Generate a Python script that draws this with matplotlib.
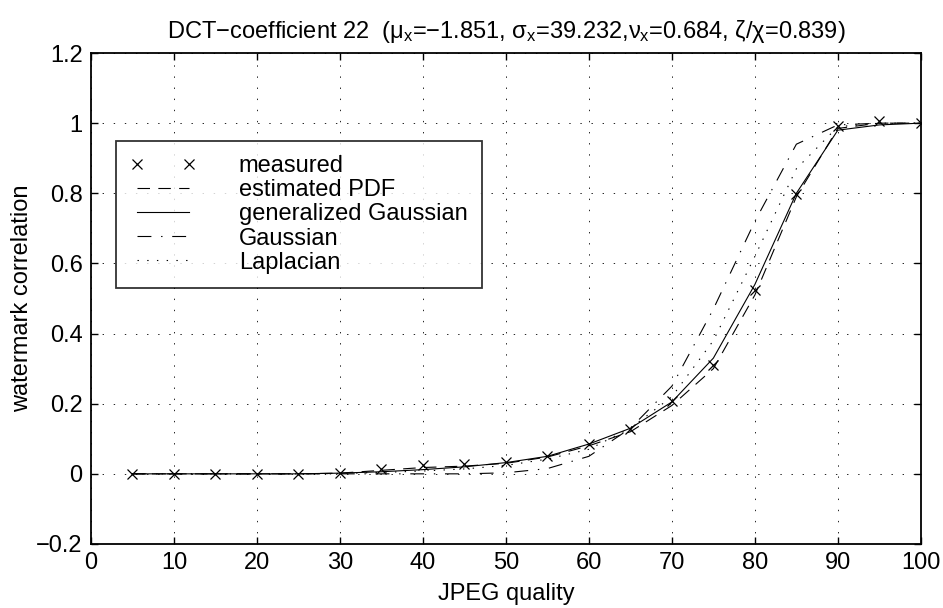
import matplotlib
matplotlib.use("Agg")
import matplotlib.pyplot as plt

plt.rcParams['font.family'] = ['Liberation Sans', 'DejaVu Sans']
plt.rcParams['mathtext.fontset'] = 'custom'
plt.rcParams['mathtext.rm'] = 'Liberation Sans'
plt.rcParams['mathtext.it'] = 'Liberation Sans'
plt.rcParams['mathtext.sf'] = 'Liberation Sans'
plt.rcParams['lines.scale_dashes'] = False

quality = [5, 10, 15, 20, 25, 30, 35, 40, 45, 50, 55, 60, 65, 70, 75, 80, 85, 90, 95, 100]
measured = [0, 0, 0, 0, 0, 0.002, 0.015, 0.024, 0.027, 0.034, 0.052, 0.084, 0.128, 0.209, 0.311, 0.525, 0.799, 0.991, 1.006, 1.0]
estimated_pdf = [0, 0, 0, 0, 0, 0.002, 0.010, 0.018, 0.022, 0.030, 0.048, 0.080, 0.120, 0.195, 0.300, 0.510, 0.790, 0.985, 1.0, 1.0]
gen_gaussian = [0, 0, 0, 0, 0, 0.002, 0.006, 0.012, 0.020, 0.032, 0.050, 0.085, 0.130, 0.205, 0.330, 0.540, 0.800, 0.980, 0.995, 1.0]
gaussian = [0, 0, 0, 0, 0, 0, 0, 0, 0.0, 0.003, 0.015, 0.050, 0.130, 0.250, 0.470, 0.720, 0.940, 0.995, 1.0, 1.0]
laplacian = [0, 0, 0, 0, 0, 0.001, 0.004, 0.008, 0.014, 0.024, 0.042, 0.070, 0.130, 0.220, 0.380, 0.620, 0.870, 0.990, 1.0, 1.0]

x_ticks = [0, 10, 20, 30, 40, 50, 60, 70, 80, 90, 100]
y_ticks = [-0.2, 0, 0.2, 0.4, 0.6, 0.8, 1, 1.2]
y_ticklabels = ['\u22120.2', '0', '0.2', '0.4', '0.6', '0.8', '1', '1.2']

title = ('DCT\u2212coefficient 22  ($\\mu_{\\mathrm{x}}$=\u22121.851, $\\sigma_{\\mathrm{x}}$=39.232,'
         '$\\nu_{\\mathrm{x}}$=0.684, \u03b6/\u03c7=0.839)')

FS = 17

fig = plt.figure(figsize=(9.43, 6.08), dpi=100)
ax = fig.add_axes([0.0965, 0.1053, 0.880, 0.8075])

lw = 0.8
ax.plot(quality, measured, linestyle='none', marker='x', color='k', markersize=7.5, markeredgewidth=0.9, label='measured')
ax.plot(quality, estimated_pdf, color='k', lw=lw, linestyle=(0, (9, 6)), label='estimated PDF')
ax.plot(quality, gen_gaussian, color='k', lw=lw, linestyle='-', label='generalized Gaussian')
ax.plot(quality, gaussian, color='k', lw=lw, linestyle=(0, (10, 7, 1, 7)), label='Gaussian')
ax.plot(quality, laplacian, color='k', lw=lw, linestyle=(0, (1, 6)), label='Laplacian')

ax.set_xlim(0, 100)
ax.set_ylim(-0.2, 1.2)
ax.set_xticks(x_ticks)
ax.set_yticks(y_ticks)
ax.set_yticklabels(y_ticklabels)
ax.tick_params(direction='in', top=True, right=True, length=5, width=1.0, labelsize=FS, pad=6)
ax.grid(True, color='k', linestyle=(0, (1, 7)), linewidth=0.6)
for s in ax.spines.values():
    s.set_linewidth(1.3)

ax.set_xlabel('JPEG quality', fontsize=FS, labelpad=6)
ax.set_ylabel('watermark correlation', fontsize=FS, labelpad=2)
ax.set_title(title, fontsize=FS, pad=11)

leg = ax.legend(loc='upper left', bbox_to_anchor=(0.0301, 0.8208), fontsize=FS,
                frameon=True, fancybox=False, edgecolor='k', numpoints=2,
                handlelength=2.8, handletextpad=1.8, borderpad=0.6,
                labelspacing=0.09, borderaxespad=0)
leg.get_frame().set_linewidth(1.3)

fig.savefig('out.png', dpi=100)
